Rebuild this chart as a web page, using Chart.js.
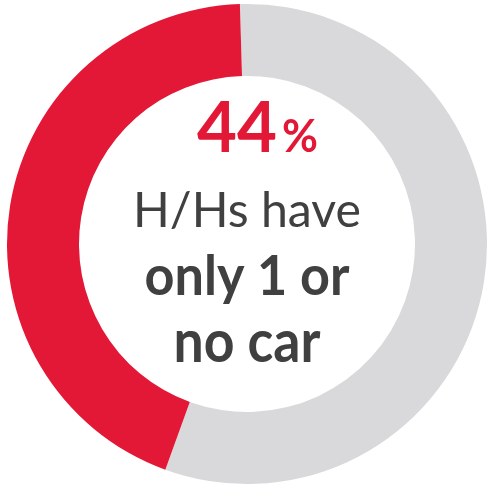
<!DOCTYPE html>
<html>
<head>
<meta charset="utf-8">
<script src="https://cdn.jsdelivr.net/npm/chart.js@4"></script>
<style>
  html, body { margin: 0; padding: 0; background: #fff; }
  #wrap { width: 489px; height: 494px; }
</style>
</head>
<body>
<div id="wrap"><canvas id="chart"></canvas></div>
<script>
// share of households by car ownership
const labels = ['2 or more cars', 'Only 1 or no car'];
const values = [56, 44];
const colours = ['#d9d9db', '#e31837'];

// centre text lines
const headline = '44';
const headlineUnit = '%';
const captionLines = ['H/Hs have', 'only 1 or', 'no car'];

// draws the percentage and the caption inside the hole
const centreText = {
  id: 'centreText',
  afterDraw(chart) {
    const ctx = chart.ctx;
    const cx = chart.chartArea.left + (chart.chartArea.right - chart.chartArea.left) / 2;
    const face = 'Lato, "Open Sans", sans-serif';

    // draws text at a given width and glyph height (ref = glyph used for height)
    function put(text, weight, width, height, ref, x, y, align) {
      ctx.font = weight + ' 100px ' + face;
      const size = 100 * width / ctx.measureText(text).width;
      ctx.font = weight + ' ' + size + 'px ' + face;
      const asc = ctx.measureText(ref).actualBoundingBoxAscent;
      ctx.save();
      ctx.textAlign = align;
      ctx.translate(x, y);
      ctx.scale(1, height / asc);
      ctx.fillText(text, 0, 0);
      ctx.restore();
    }

    ctx.save();
    ctx.textBaseline = 'alphabetic';

    // "44%" with a smaller percent sign
    ctx.fillStyle = colours[1];
    put(headline, 'bold', 80, 52, '4', 197, 152, 'left');
    put(headlineUnit, 'bold', 36, 34, '%', 282, 152, 'left');

    // caption
    ctx.fillStyle = '#404041';
    put(captionLines[0], 'normal', 228, 35, 'H', cx, 227, 'center');
    put(captionLines[1], 'bold', 205, 40, 'l', cx, 295, 'center');
    put(captionLines[2], 'bold', 147, 31, 'n', cx, 362, 'center');
    ctx.restore();
  }
};

new Chart(document.getElementById('chart'), {
  type: 'doughnut',
  data: {
    labels: labels,
    datasets: [{
      data: values,
      backgroundColor: colours,
      borderWidth: 0
    }]
  },
  options: {
    responsive: true,
    maintainAspectRatio: false,
    animation: false,
    cutout: '70%',
    rotation: -1.7,
    layout: { padding: { left: 7, right: 2, top: 4, bottom: 10 } },
    plugins: {
      legend: { display: false },
      tooltip: { enabled: false }
    }
  },
  plugins: [centreText]
});
</script>
</body>
</html>
